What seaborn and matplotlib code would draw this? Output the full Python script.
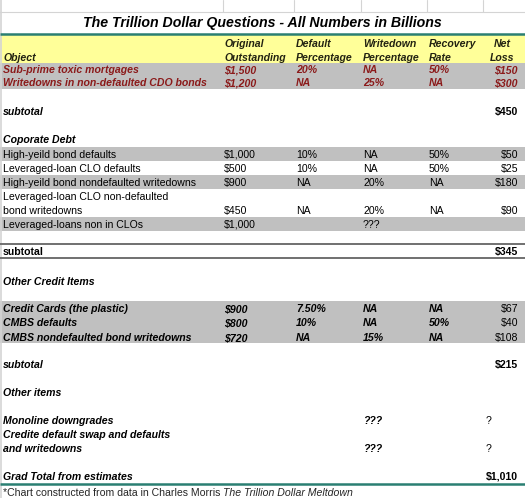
import matplotlib.pyplot as plt
import seaborn as sns

# ---- data --------------------------------------------------------------
title = "The Trillion Dollar Questions - All Numbers in Billions"
header_labels = ["Object", "Original\nOutstanding", "Default\nPercentage",
                 "Writedown\nPercentage", "Recovery\nRate", "Net\nLoss"]

subprime_items = ["Sub-prime toxic mortgages", "Writedowns in non-defaulted CDO bonds"]
subprime_original = ["$1,500", "$1,200"]
subprime_default = ["20%", "NA"]
subprime_writedown = ["NA", "25%"]
subprime_recovery = ["50%", "NA"]
subprime_net = ["$150", "$300"]

corporate_items = ["High-yeild bond defaults", "Leveraged-loan CLO defaults",
                   "High-yeild bond nondefaulted writedowns",
                   "Leveraged-loan CLO non-defaulted\nbond writedowns",
                   "Leveraged-loans non in CLOs"]
corporate_original = ["$1,000", "$500", "$900", "$450", "$1,000"]
corporate_default = ["10%", "10%", "NA", "NA", ""]
corporate_writedown = ["NA", "NA", "20%", "20%", "???"]
corporate_recovery = ["50%", "50%", "NA", "NA", ""]
corporate_net = ["$50", "$25", "$180", "$90", ""]

credit_items = ["Credit Cards (the plastic)", "CMBS defaults", "CMBS nondefaulted bond writedowns"]
credit_original = ["$900", "$800", "$720"]
credit_default = ["7.50%", "10%", "NA"]
credit_writedown = ["NA", "NA", "15%"]
credit_recovery = ["NA", "50%", "NA"]
credit_net = ["$67", "$40", "$108"]

other_items = ["Monoline downgrades", "Credite default swap and defaults\nand writedowns"]
other_writedown = ["???", "???"]
other_net = ["?", "?"]

section_labels = ["Coporate Debt", "Other Credit Items", "Other items"]
subtotals = ["$450", "$345", "$215"]
grand_total_label = "Grad Total from estimates"
grand_total = "$1,010"
footnote = "*Chart constructed from data in Charles Morris "
footnote_book = "The Trillion Dollar Meltdown"

# ---- style -------------------------------------------------------------
sns.set_theme(style="white")
plt.rcParams["font.family"] = ["Liberation Sans", "DejaVu Sans"]

W, H = 525, 498
FS = 7.6
LINE = 14  # pixel distance between wrapped lines
BASE = 3.8  # baseline offset below the row centre, pixels
GRAY = "#C0C0C0"
YELLOW = "#FFFF99"
TEAL = "#2A7F72"
DARKRED = "#8B1A1A"
HEAD = "#222211"
GRID = "#D4D4D4"
COL_X = [3, 224, 296, 363, 429, 518]

fig = plt.figure(figsize=(W / 100, H / 100), dpi=100)
ax = fig.add_axes([0, 0, 1, 1])
ax.set_xlim(0, W)
ax.set_ylim(H, 0)
ax.axis("off")


def cell(x, y, s, ha="left", color="black", weight="normal", style="normal"):
    # wrapped text is drawn line by line, first line centred at y
    for k, part in enumerate(s.split("\n")):
        ax.text(x, y + k * LINE + BASE, part, ha=ha, va="baseline", fontsize=FS,
                color=color, fontweight=weight, fontstyle=style)


def row(y, values, color="black", weight="normal", style="normal",
        net_weight=None, net_style=None):
    # values sit on the last line of a wrapped label
    yv = y + values[0].count("\n") * LINE
    cell(COL_X[0], y, values[0], color=color, weight=weight, style=style)
    for x, v in zip(COL_X[1:5], values[1:5]):
        cell(x, yv, v, color=color, weight=weight, style=style)
    cell(COL_X[5], yv, values[5], ha="right", color=color,
         weight=net_weight or weight, style=net_style or style)


# spreadsheet gridlines above the title
ax.plot([0, W], [12, 12], color=GRID, lw=0.8)
for gx in [223, 294, 361, 427, 483]:
    ax.plot([gx, gx], [0, 12], color=GRID, lw=0.8)
ax.plot([1, 1], [0, H], color=GRID, lw=1.2)

# title and header
ax.text(262, 22.5, title, ha="center", va="center", fontsize=10.2,
        fontweight="bold", fontstyle="italic", color="black")
ax.plot([0, W], [33.5, 33.5], color=TEAL, lw=1.8, solid_capstyle="butt")
ax.axhspan(34.5, 63, color=YELLOW, lw=0)
cell(COL_X[0], 57, header_labels[0], color=HEAD, weight="bold", style="italic")
for x, lab in zip(COL_X[1:5], header_labels[1:5]):
    cell(x, 43, lab, color=HEAD, weight="bold", style="italic")
cell(502, 43, header_labels[5], ha="center", color=HEAD, weight="bold", style="italic")

# sub-prime block
ax.axhspan(63, 89, color=GRAY, lw=0)
for i, y in enumerate([69.5, 82.5]):
    row(y, [subprime_items[i], subprime_original[i], subprime_default[i],
            subprime_writedown[i], subprime_recovery[i], subprime_net[i]],
        color=DARKRED, weight="bold", style="italic")
cell(COL_X[0], 111, "subtotal", weight="bold", style="italic")
cell(COL_X[5], 111, subtotals[0], ha="right", weight="bold")

# corporate debt block
cell(COL_X[0], 139, section_labels[0], weight="bold", style="italic")
ax.axhspan(147, 161, color=GRAY, lw=0)
ax.axhspan(175, 189, color=GRAY, lw=0)
ax.axhspan(217, 231, color=GRAY, lw=0)
for i, y in enumerate([154, 168, 182, 196, 224]):
    row(y, [corporate_items[i], corporate_original[i], corporate_default[i],
            corporate_writedown[i], corporate_recovery[i], corporate_net[i]])
ax.plot([0, W], [244, 244], color="#707070", lw=1.4)
ax.plot([0, W], [258, 258], color="#707070", lw=1.4)
cell(COL_X[0], 251, "subtotal", weight="bold")
cell(COL_X[5], 251, subtotals[1], ha="right", weight="bold")

# other credit block
cell(COL_X[0], 281, section_labels[1], weight="bold", style="italic")
ax.axhspan(301, 343, color=GRAY, lw=0)
for i, y in enumerate([308, 322.5, 337]):
    row(y, [credit_items[i], credit_original[i], credit_default[i],
            credit_writedown[i], credit_recovery[i], credit_net[i]],
        weight="bold", style="italic", net_weight="normal", net_style="normal")
cell(COL_X[0], 364, "subtotal", weight="bold", style="italic")
cell(COL_X[5], 364, subtotals[2], ha="right", weight="bold")

# other items block
cell(COL_X[0], 392, section_labels[2], weight="bold", style="italic")
for i, y in enumerate([420, 434]):
    yv = y + other_items[i].count("\n") * LINE
    cell(COL_X[0], y, other_items[i], weight="bold", style="italic")
    cell(COL_X[3], yv, other_writedown[i], weight="bold", style="italic")
    cell(486, yv, other_net[i])

# grand total and footnote
cell(COL_X[0], 476, grand_total_label, weight="bold", style="italic")
cell(COL_X[5], 476, grand_total, ha="right", weight="bold")
ax.plot([0, W], [483.5, 483.5], color=TEAL, lw=1.8, solid_capstyle="butt")
t1 = ax.text(3, 492 + BASE, footnote, ha="left", va="baseline", fontsize=FS)
ax.annotate(footnote_book, xy=(1, 0), xycoords=t1, ha="left", va="bottom",
            fontsize=FS, fontstyle="italic")

fig.savefig("out.png", dpi=100)
